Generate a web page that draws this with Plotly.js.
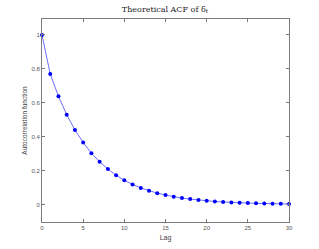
<!DOCTYPE html>
<html>
<head>
<meta charset="utf-8">
<script src="https://cdn.plot.ly/plotly-3.0.1.min.js"></script>
<style>html,body{margin:0;padding:0;background:#fff;}#chart{width:319px;height:249px;}</style>
</head>
<body>
<div id="chart"></div>
<script>
const lags = [0,1,2,3,4,5,6,7,8,9,10,11,12,13,14,15,16,17,18,19,20,21,22,23,24,25,26,27,28,29,30];
const acf = [1,0.77,0.638,0.53,0.44,0.366,0.303,0.252,0.209,0.173,0.143,0.118,0.098,0.081,0.067,0.056,0.046,0.038,0.032,0.026,0.022,0.018,0.015,0.012,0.010,0.0085,0.007,0.006,0.005,0.004,0.0035];
const xTicks = [0,5,10,15,20,25,30];
const yTicks = [0,0.2,0.4,0.6,0.8,1];
const yTickText = ['0','0.2','0.4','0.6','0.8','1'];

const axisCol = '#7a7a7a';
const trace = {
  x: lags, y: acf, type: 'scatter', mode: 'lines+markers', cliponaxis: false,
  line: {color: '#6f6fff', width: 1},
  marker: {color: '#0000ff', size: 4, symbol: 'circle'},
  hoverinfo: 'skip'
};
const layout = {
  width: 319, height: 249,
  margin: {l: 42, r: 30, t: 19, b: 27},
  paper_bgcolor: '#fff', plot_bgcolor: '#fff',
  showlegend: false,
  title: {text: 'Theoretical ACF of δ<sub>t</sub>', font: {family: 'DejaVu Serif, serif', size: 8, color: '#222'},
          x: 0.517, xanchor: 'center', y: 0.965, yanchor: 'middle'},
  xaxis: {
    range: [0, 30], tickvals: xTicks, ticktext: xTicks.map(String),
    ticks: 'inside', ticklen: 3, tickcolor: axisCol, tickwidth: 1,
    showline: true, linecolor: axisCol, linewidth: 1, mirror: 'ticks',
    showgrid: false, zeroline: false,
    tickfont: {family: 'Liberation Sans, Arial, sans-serif', size: 6, color: '#555'},
    title: {text: 'Lag', font: {family: 'Liberation Sans, Arial, sans-serif', size: 7, color: '#444'}, standoff: 4}
  },
  yaxis: {
    range: [-0.103, 1.094], tickvals: yTicks, ticktext: yTickText,
    ticks: 'inside', ticklen: 3, tickcolor: axisCol, tickwidth: 1,
    showline: true, linecolor: axisCol, linewidth: 1, mirror: 'ticks',
    showgrid: false, zeroline: false,
    tickfont: {family: 'Liberation Sans, Arial, sans-serif', size: 6, color: '#555'},
    title: {text: 'Autocorrelation function', font: {family: 'Liberation Sans, Arial, sans-serif', size: 6.5, color: '#444'}, standoff: 3}
  }
};
Plotly.newPlot('chart', [trace], layout, {displayModeBar: false, staticPlot: true});
</script>
</body>
</html>
